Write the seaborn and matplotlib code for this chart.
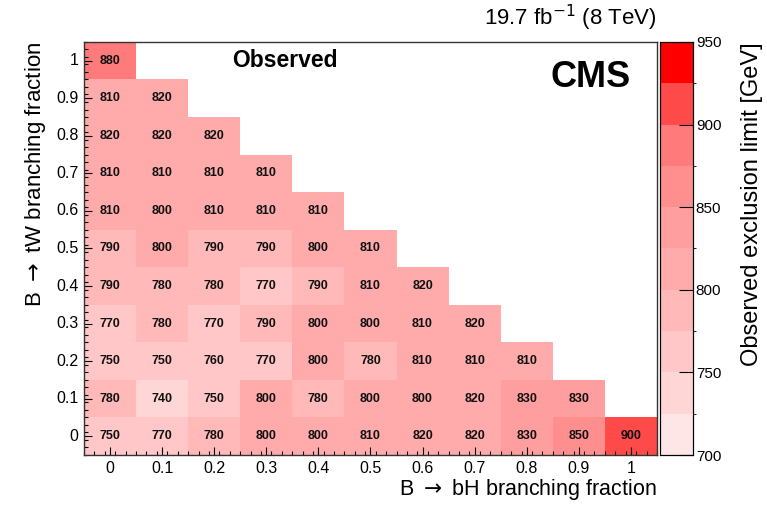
import numpy as np
import pandas as pd
import matplotlib
matplotlib.use("Agg")
import matplotlib.pyplot as plt
from matplotlib.colors import ListedColormap, BoundaryNorm
import seaborn as sns

# B -> bH fraction (columns) and B -> tW fraction (rows)
bh_labels = ["0", "0.1", "0.2", "0.3", "0.4", "0.5", "0.6", "0.7", "0.8", "0.9", "1"]
tw_labels = ["1", "0.9", "0.8", "0.7", "0.6", "0.5", "0.4", "0.3", "0.2", "0.1", "0"]

# observed limits, one list per tW row (top to bottom), starting at bH = 0
row_tw_10 = [880]
row_tw_09 = [810, 820]
row_tw_08 = [820, 820, 820]
row_tw_07 = [810, 810, 810, 810]
row_tw_06 = [810, 800, 810, 810, 810]
row_tw_05 = [790, 800, 790, 790, 800, 810]
row_tw_04 = [790, 780, 780, 770, 790, 810, 820]
row_tw_03 = [770, 780, 770, 790, 800, 800, 810, 820]
row_tw_02 = [750, 750, 760, 770, 800, 780, 810, 810, 810]
row_tw_01 = [780, 740, 750, 800, 780, 800, 800, 820, 830, 830]
row_tw_00 = [750, 770, 780, 800, 800, 810, 820, 820, 830, 850, 900]

rows = [row_tw_10, row_tw_09, row_tw_08, row_tw_07, row_tw_06, row_tw_05,
        row_tw_04, row_tw_03, row_tw_02, row_tw_01, row_tw_00]

grid = np.full((11, 11), np.nan)
for i, r in enumerate(rows):
    grid[i, :len(r)] = r
df = pd.DataFrame(grid, index=tw_labels, columns=bh_labels)

level_edges = [700, 725, 750, 775, 800, 825, 850, 875, 900, 925, 950]
level_colors = ["#ffe6e6", "#ffd6d6", "#ffc7c7", "#ffb9b9", "#ffabab",
                "#ff9e9e", "#ff8f8f", "#ff7a7a", "#ff4a4a", "#ff0000"]
cmap = ListedColormap(level_colors)
norm = BoundaryNorm(level_edges, cmap.N)

plt.rcParams["font.family"] = ["Liberation Sans", "DejaVu Sans"]
plt.rcParams["mathtext.fontset"] = "dejavusans"

fig = plt.figure(figsize=(7.67, 5.05), dpi=100)
ax = fig.add_axes([0.1095, 0.099, 0.747, 0.818])
cax = fig.add_axes([0.8605, 0.099, 0.043, 0.818])

sns.heatmap(df, ax=ax, cmap=cmap, norm=norm, annot=True, fmt=".0f",
            annot_kws={"fontsize": 9, "color": "#111111", "fontweight": "bold"},
            cbar_ax=cax, cbar_kws={"ticks": [700, 750, 800, 850, 900, 950]},
            linewidths=0)

for s in ax.spines.values():
    s.set_visible(True)
    s.set_linewidth(1.0)
    s.set_color("#333333")

ax.set_xticks(np.arange(11) + 0.5)
ax.set_xticklabels(bh_labels, rotation=0, fontsize=11.5)
ax.set_yticks(np.arange(11) + 0.5)
ax.set_yticklabels(tw_labels, rotation=0, fontsize=11.5)
ax.set_xticks(np.arange(0, 11.01, 0.2), minor=True)
ax.set_yticks(np.arange(0, 11.01, 0.2), minor=True)
ax.tick_params(which="major", direction="in", length=6, width=0.8, pad=4)
ax.tick_params(which="minor", direction="in", length=3, width=0.8)

ax.set_xlabel(r"B $\rightarrow$ bH branching fraction", fontsize=15.5,
              loc="right", labelpad=1)
ax.set_ylabel(r"B $\rightarrow$ tW branching fraction", fontsize=16,
              loc="top", labelpad=6)

ax.text(0.35, 0.955, "Observed", transform=ax.transAxes, fontsize=16.5,
        fontweight="bold", ha="center", va="center")
ax.text(0.885, 0.915, "CMS", transform=ax.transAxes, fontsize=26,
        fontweight="bold", ha="center", va="center")
ax.text(1.0, 1.022, "19.7 fb$^{-1}$ (8 TeV)", transform=ax.transAxes,
        fontsize=16, ha="right", va="bottom")

cax.tick_params(direction="in", length=10, width=0.8, labelsize=11, pad=2)
cax.set_ylabel("Observed exclusion limit [GeV]", fontsize=17, labelpad=14,
               loc="top")
for s in cax.spines.values():
    s.set_visible(True)
    s.set_linewidth(0.8)

fig.savefig("out.png", dpi=100)
